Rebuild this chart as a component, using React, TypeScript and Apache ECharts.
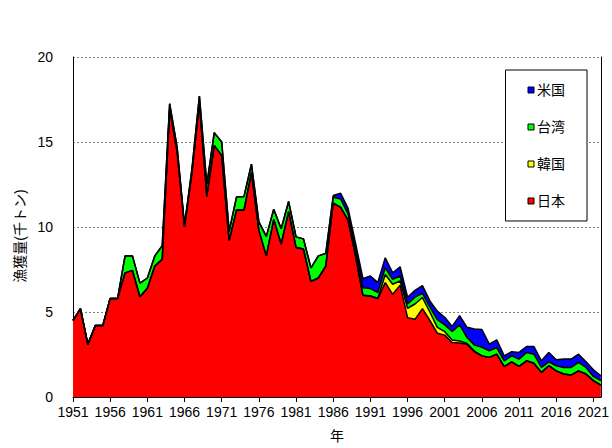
import React, { useEffect, useRef } from "react";
import * as echarts from "echarts";

// 1951 - 2022
const years: string[] = [];
for (let y = 1951; y <= 2022; y++) years.push(String(y));

// catch in thousand tonnes
const japan = [
  4.5, 5.2, 3.1, 4.2, 4.2, 5.8, 5.8, 7.3, 7.45, 5.9,
  6.4, 7.7, 8.1, 16.9, 14.45, 10.0, 13.2, 17.3, 11.8, 14.8,
  14.2, 9.2, 11.0, 11.0, 13.2, 9.8, 8.3, 10.45, 9.0, 10.9,
  8.8, 8.7, 6.8, 7.0, 7.7, 11.4, 11.15, 10.4, 8.3, 5.98,
  5.94, 5.79, 6.73, 6.04, 6.57, 4.67, 4.57, 5.2, 4.5, 3.75,
  3.64, 3.2, 3.17, 3.1, 2.65, 2.42, 2.33, 2.52, 1.78, 2.07,
  1.8, 2.13, 1.99, 1.45, 1.84, 1.54, 1.35, 1.29, 1.54, 1.35,
  0.96, 0.7,
];
const korea = [
  0, 0, 0, 0, 0, 0, 0, 0, 0, 0,
  0, 0, 0, 0, 0, 0, 0, 0, 0, 0,
  0, 0, 0, 0, 0, 0, 0, 0, 0, 0,
  0, 0, 0, 0, 0, 0, 0, 0, 0, 0,
  0, 0, 0.48, 0.59, 0.25, 0.55, 0.9, 0.65, 0.5, 0.35,
  0.2, 0.15, 0.12, 0.05, 0.05, 0, 0, 0, 0, 0,
  0, 0, 0, 0, 0, 0, 0, 0, 0, 0,
  0, 0,
];
const taiwan = [
  0, 0, 0, 0, 0, 0, 0, 1.0, 0.85, 0.8,
  0.6, 0.6, 0.8, 0.35, 0.25, 0.1, 0.2, 0.4, 0.7, 0.75,
  0.8, 0.55, 0.77, 0.8, 0.5, 0.5, 1.15, 0.6, 0.9, 0.6,
  0.62, 0.6, 0.8, 1.3, 0.75, 0.35, 0.5, 0.35, 0.35, 0.45,
  0.44, 0.35, 0.39, 0.29, 0.3, 0.25, 0.4, 0.25, 0.3, 0.45,
  0.4, 0.5, 0.95, 0.35, 0.35, 0.5, 0.39, 0.39, 0.35, 0.35,
  0.43, 0.49, 0.53, 0.29, 0.23, 0.3, 0.39, 0.45, 0.49, 0.39,
  0.25, 0.26,
];
const usa = [
  0, 0, 0, 0, 0, 0, 0, 0, 0, 0,
  0, 0, 0, 0, 0, 0, 0, 0, 0, 0,
  0, 0, 0, 0, 0, 0, 0, 0, 0, 0,
  0, 0, 0, 0, 0, 0.1, 0.33, 0.35, 0.4, 0.53,
  0.74, 0.59, 0.59, 0.39, 0.54, 0.4, 0.4, 0.45, 0.35, 0.5,
  0.45, 0.3, 0.55, 0.6, 0.95, 1.05, 0.39, 0.45, 0.29, 0.24,
  0.39, 0.35, 0.45, 0.39, 0.55, 0.35, 0.49, 0.49, 0.49, 0.33,
  0.39, 0.29,
];

const FONT = "'Liberation Sans', Arial, 'Noto Sans CJK JP', sans-serif";

const App: React.FC = () => {
  const chartRef = useRef<HTMLDivElement>(null);

  useEffect(() => {
    const chartDom = chartRef.current;
    if (!chartDom) return;
    const myChart = echarts.init(chartDom, undefined, { renderer: "svg" });

    const areaSeries = (name: string, data: number[], color: string) => ({
      name,
      type: "line" as const,
      stack: "catch",
      data,
      symbol: "none",
      itemStyle: { color },
      lineStyle: { color: "#000", width: 1.5 },
      areaStyle: { color, opacity: 1 },
    });

    const option: echarts.EChartsOption = {
      animation: false,
      backgroundColor: "#fff",
      textStyle: { fontFamily: FONT, color: "#000" },
      grid: { left: 73, right: 8, top: 57, bottom: 50 },
      legend: {
        data: ["米国", "台湾", "韓国", "日本"],
        orient: "vertical",
        right: 25,
        top: 70,
        icon: "rect",
        itemWidth: 6,
        itemHeight: 6,
        itemGap: 23,
        padding: [13, 22, 13, 22],
        borderColor: "#000",
        borderWidth: 1,
        backgroundColor: "#fff",
        itemStyle: { borderColor: "#000", borderWidth: 1 },
        textStyle: { fontFamily: FONT, fontSize: 14, color: "#000", padding: [0, 0, 0, -2] },
      },
      xAxis: {
        type: "category",
        data: years,
        boundaryGap: false,
        name: "年",
        nameLocation: "middle",
        nameGap: 32,
        nameTextStyle: { fontSize: 14, color: "#000" },
        axisLine: { lineStyle: { color: "#000", width: 1 } },
        axisTick: { interval: 4, length: 5, lineStyle: { color: "#000" } },
        axisLabel: { interval: 4, fontSize: 14, color: "#000", margin: 8 },
      },
      yAxis: [
        {
          type: "value",
          min: 0,
          max: 20,
          interval: 5,
          name: "漁獲量(千トン)",
          nameLocation: "middle",
          nameGap: 46,
          nameRotate: 90,
          nameTextStyle: { fontSize: 14, color: "#000", padding: [0, 18, 0, 0] },
          axisLine: { show: true, lineStyle: { color: "#000", width: 1 } },
          axisTick: { show: false },
          axisLabel: { fontSize: 14, color: "#000", margin: 20 },
          splitLine: {
            show: true,
            lineStyle: { color: "#808080", width: 1, type: [2, 2] },
          },
        },
        {
          type: "value",
          position: "right",
          min: 0,
          max: 20,
          interval: 5,
          axisLine: { show: true, lineStyle: { color: "#000", width: 1 } },
          axisTick: { show: false },
          axisLabel: { show: false },
          splitLine: { show: false },
        },
      ],
      series: [
        areaSeries("日本", japan, "#ff0000"),
        areaSeries("韓国", korea, "#ffff00"),
        areaSeries("台湾", taiwan, "#00ff00"),
        areaSeries("米国", usa, "#0000ff"),
      ],
    };

    myChart.setOption(option);

    return () => {
      myChart.dispose();
    };
  }, []);

  return (
    <div
      ref={chartRef}
      style={{ position: "fixed", left: 0, top: 0, width: "612px", height: "448px" }}
    />
  );
};

export default App;
